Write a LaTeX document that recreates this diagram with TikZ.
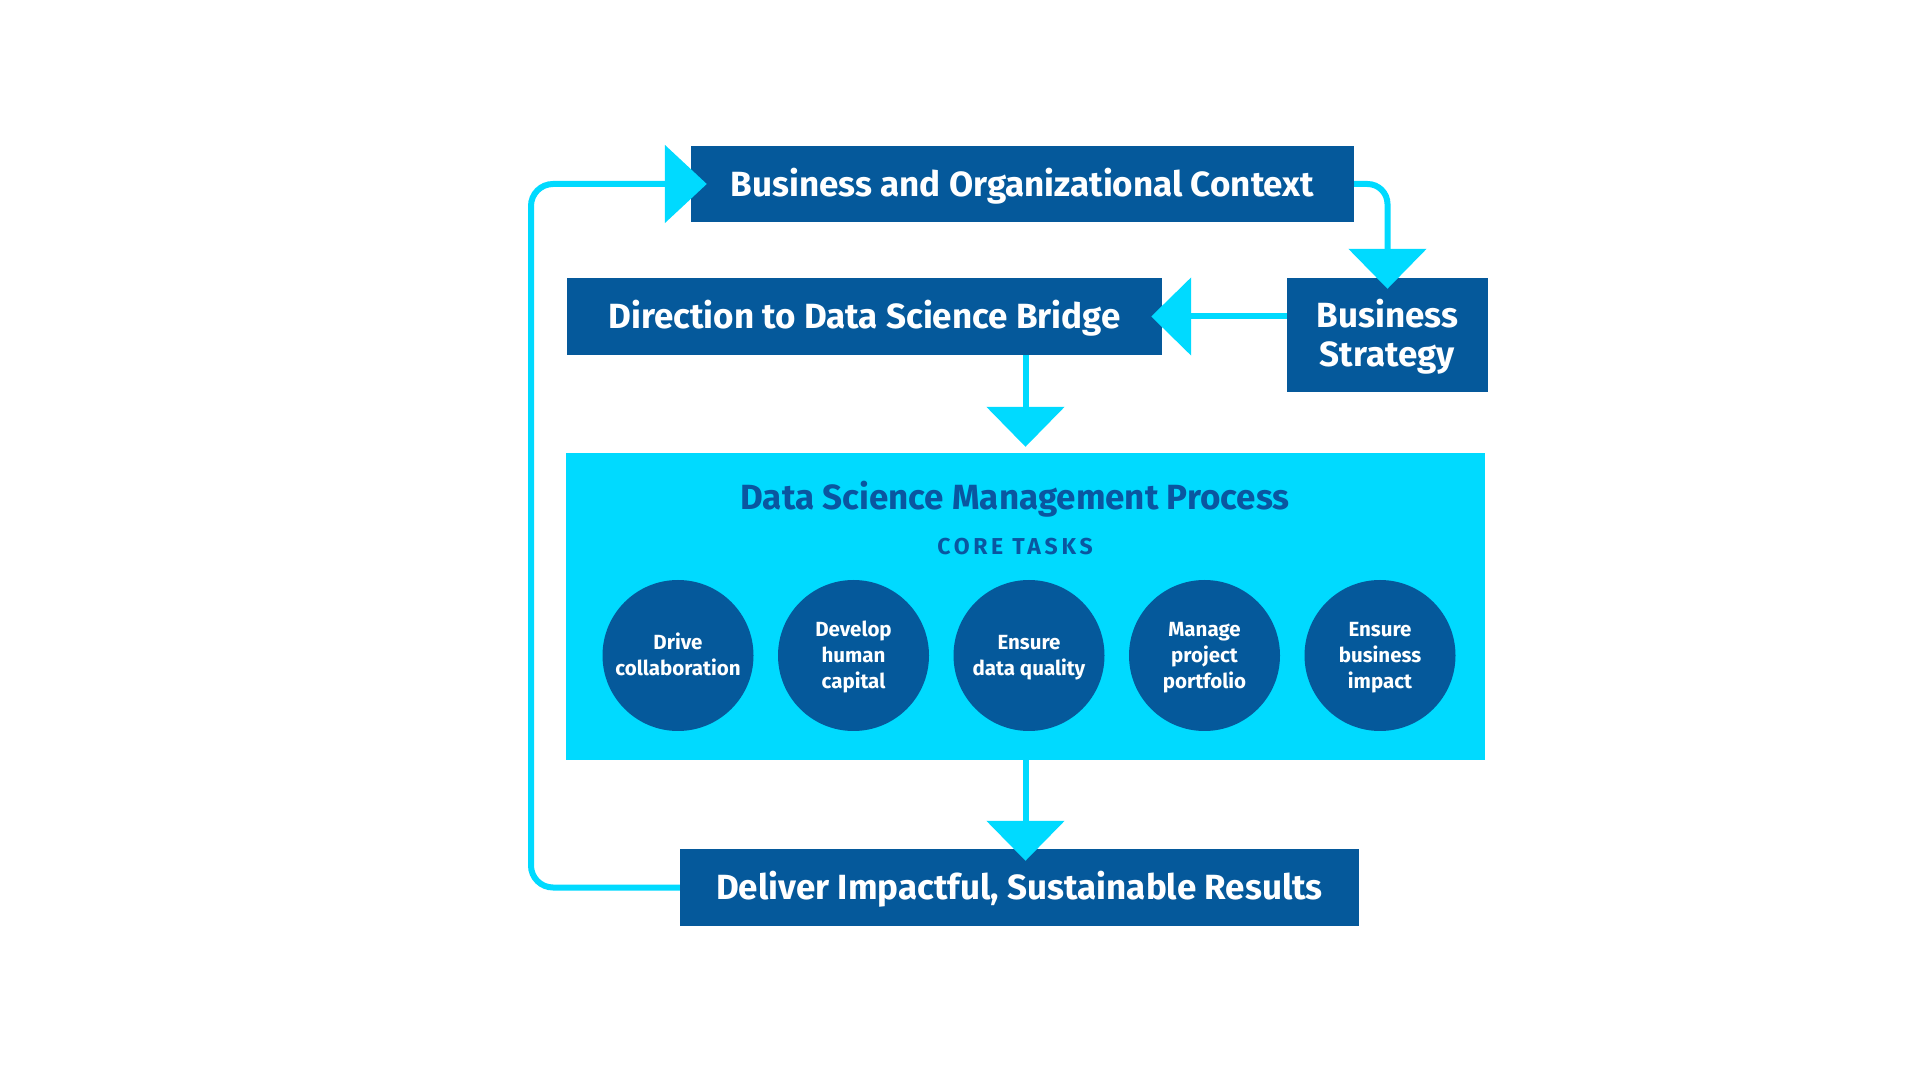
\documentclass[tikz,border=0pt]{standalone}
\usepackage{fontspec}
\setmainfont{Fira Sans}
\usetikzlibrary{arrows.meta}

\definecolor{boxblue}{HTML}{05599B}
\definecolor{brightcyan}{HTML}{00DAFF}
\definecolor{titleblue}{HTML}{0A56A0}

\newcommand{\boxfont}{\fontsize{35}{39}\selectfont\bfseries}
\newcommand{\taskfont}{\fontsize{20.5}{26}\selectfont\bfseries}
\newcommand{\corefont}{\fontsize{23}{26}\selectfont\bfseries\addfontfeature{LetterSpace=16}}

\begin{document}
\begin{tikzpicture}
    [
        x=1pt, y=1pt,
        stagebox/.style={fill=boxblue, text=white, inner sep=0pt, font=\boxfont, align=center, text height=24.1pt, text depth=0pt},
        taskcircle/.style={circle, fill=boxblue, text=white, inner sep=0pt, minimum size=151pt, font=\taskfont, align=center, text depth=0pt},
        flow/.style={draw=brightcyan, line width=6pt, -{Triangle[width=77pt, length=40pt]}},
    ]
    \useasboundingbox[fill=white] (0,0) rectangle (1920,1080);

    \node[stagebox, minimum width=663pt, minimum height=76pt] (context) at (1022.5,896) {Business and Organizational Context};
    \node[stagebox, minimum width=595pt, minimum height=77pt] (bridge) at (864.5,763.5) {Direction to Data Science Bridge};
    \node[stagebox, minimum width=201pt, minimum height=114pt, text height=63.1pt] (strategy) at (1387.5,745) {Business\\Strategy};
    \node[fill=brightcyan, inner sep=0pt, minimum width=919pt, minimum height=307pt] (process) at (1025.5,473.5) {};
    \node[text=titleblue, font=\boxfont, text height=24.4pt, text depth=0pt] (proctitle) at (1015,582.5) {Data Science Management Process};
    \node[text=titleblue, font=\corefont, text height=15.8pt, text depth=0pt] (coretasks) at (1015,533.5) {CORE TASKS};
    \foreach \task/\textup [count=\i from 0] in {{Drive\\collaboration}/40.1pt, {Develop\\human\\capital}/66.1pt, {Ensure\\data quality}/40.1pt, {Manage\\project\\portfolio}/66.1pt, {Ensure\\business\\impact}/66.1pt}
        \node[taskcircle, text height=\textup] (task\i) at (678+175.5*\i,424.5) {\task};
    \node[stagebox, minimum width=679pt, minimum height=77pt] (results) at (1019.5,192.5) {Deliver Impactful, Sustainable Results};

    \coordinate (loopleft) at (531,0);
    \draw[flow, rounded corners=20pt, shorten >=-11pt] (context.east) -| (strategy.north);
    \draw[flow, shorten >=-11pt] (strategy.west |- bridge.east) -- (bridge.east);
    \draw[flow, shorten >=6pt] (bridge.south -| process.north) -- (process.north);
    \draw[flow, shorten >=-12pt] (process.south) -- (results.north -| process.south);
    \draw[flow, rounded corners=22pt, shorten >=-16pt, -{Triangle[width=77pt, length=42pt]}] (results.west) -| (loopleft |- context.west) -- (context.west);
\end{tikzpicture}
\end{document}
